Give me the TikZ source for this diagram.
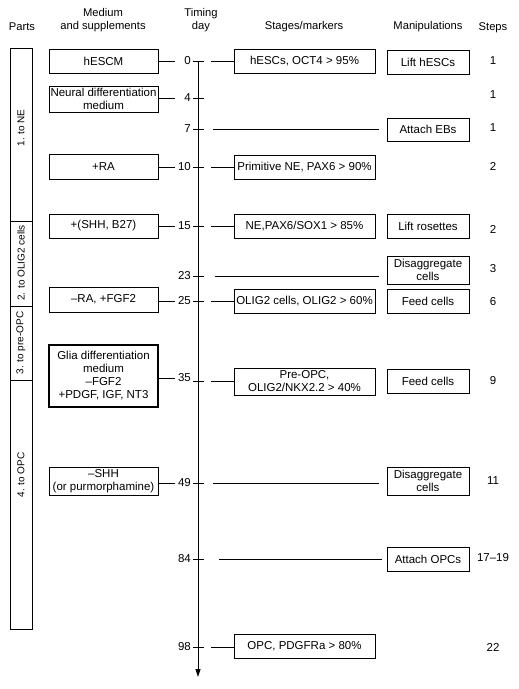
\documentclass[tikz,border=0pt]{standalone}
\usepackage{fontspec}
\setmainfont{Liberation Sans}
\usetikzlibrary{arrows.meta}
\begin{document}
\begin{tikzpicture}[x=1pt,y=-1pt,
  every node/.style={inner sep=0pt, font=\fontsize{11.5}{13}\selectfont},
  box/.style={draw, line width=0.9pt, align=center},
  mbox/.style={box, minimum width=109pt},
  sbox/.style={box, minimum width=141pt},
  pbox/.style={box, minimum width=82pt},
  conn/.style={line width=0.8pt},
  hdr/.style={font=\fontsize{11.2}{13}\selectfont, align=center},
  part/.style={draw, line width=0.9pt, minimum width=22pt},
  plab/.style={rotate=90, font=\fontsize{10}{12}\selectfont}]
\useasboundingbox (0,0) rectangle (519,689);

% headers
\node[hdr] (hParts) at (22,27) {Parts};
\node[hdr] (hMed) at (103,20.5) {Medium\\and supplements};
\node[hdr] (hTim) at (201,20.5) {Timing\\day};
\node[hdr] (hSt) at (304,27) {Stages/markers};
\node[hdr] (hMan) at (428,27) {Manipulations};
\node[hdr] (hSteps) at (493,28) {Steps};

% parts column
\node[part, minimum height=173pt] (P1) at (21,134.5) {};
\node[part, minimum height=85pt] (P2) at (21,263.5) {};
\node[part, minimum height=74pt] (P3) at (21,343) {};
\node[part, minimum height=249pt] (P4) at (21,504.5) {};
\node[plab] (l1) at (21,128) {1. to NE};
\node[plab] (l2) at (21,263) {2. to OLIG2 cells};
\node[plab] (l3) at (21,343) {3. to pre-OPC};
\node[plab] (l4) at (21,475) {4. to OPC};

% medium boxes
\node[mbox, minimum height=24pt] (m0) at (103.5,61) {hESCM};
\node[mbox, minimum height=26pt] (m4) at (103.5,99) {Neural differentiation\\medium};
\node[mbox, minimum height=25pt] (m10) at (103.5,166.5) {+RA};
\node[mbox, minimum height=24pt] (m15) at (103.5,226) {+(SHH, B27)};
\node[mbox, minimum height=25pt] (m25) at (103.5,299.5) {\textendash RA, +FGF2};
\node[mbox, minimum height=62pt, line width=1.8pt] (m35) at (103.5,376) {Glia differentiation\\medium\\\textendash FGF2\\+PDGF, IGF, NT3};
\node[mbox, minimum height=28pt] (m49) at (103.5,481) {\textendash SHH\\(or purmorphamine)};

% timeline
\coordinate (tTop) at (198,61);
\coordinate (tBot) at (198,677);
\draw[conn, -{Triangle[width=5pt,length=8pt]}] (tTop) -- (tBot);
\foreach \d/\y in {0/61,4/98,7/129,10/167,15/226,23/276,25/301,35/381,49/483,84/559,98/647}{
  \coordinate (k\d) at (198,\y);
  \draw[conn] ([xshift=-5pt]k\d) -- ([xshift=6pt]k\d);
}
\foreach \d/\y in {0/61,4/98,7/129,10/167,15/226,23/276,25/301,35/378,49/483,84/559,98/647}{
  \node[anchor=east] (d\d) at (191,\y) {\d};
}

% left connectors
\foreach \d/\y in {0/61,4/98,10/167,15/226,25/301,35/378,49/483}{
  \coordinate (L\d) at (175,\y);
  \draw[conn] (m\d.east |- L\d) -- (L\d);
}

% stage boxes
\node[sbox, minimum height=24pt] (s0) at (304.5,61) {hESCs, OCT4 > 95\%};
\node[sbox, minimum height=24pt] (s10) at (304.5,167) {Primitive NE, PAX6 > 90\%};
\node[sbox, minimum height=24pt] (s15) at (304.5,226) {NE,PAX6/SOX1 > 85\%};
\node[sbox, minimum height=24pt] (s25) at (304.5,301) {OLIG2 cells, OLIG2 > 60\%};
\node[sbox, minimum height=27pt] (s35) at (304.5,381.5) {Pre-OPC,\\OLIG2/NKX2.2 > 40\%};
\node[sbox, minimum height=24pt] (s98) at (304.5,646) {OPC, PDGFRa > 80\%};

% right connectors to stage boxes
\foreach \d/\y in {0/61,10/167,15/226,25/301,35/381,98/647}{
  \coordinate (R\d) at (211,\y);
  \draw[conn] (R\d) -- (s\d.west |- R\d);
}
% long connectors (no stage box)
\foreach \d/\y/\x/\e in {7/129/213/379,23/276/215/379,49/483/213/379,84/559/219/382}{
  \coordinate (R\d) at (\x,\y);
  \coordinate (E\d) at (\e,\y);
  \draw[conn] (R\d) -- (E\d);
}

% manipulation boxes
\node[pbox, minimum height=24pt] (p0) at (428,62) {Lift hESCs};
\node[pbox, minimum height=23pt] (p7) at (428,129.5) {Attach EBs};
\node[pbox, minimum height=24pt] (p15) at (428,226) {Lift rosettes};
\node[pbox, minimum height=28pt] (p23) at (428,270) {Disaggregate\\cells};
\node[pbox, minimum height=24pt] (p25) at (428,301) {Feed cells};
\node[pbox, minimum height=24pt] (p35) at (428,381) {Feed cells};
\node[pbox, minimum height=28pt] (p49) at (428,481) {Disaggregate\\cells};
\node[pbox, minimum height=24pt] (p84) at (428,559) {Attach OPCs};

% steps
\node (st1) at (493,61) {1};
\node (st2) at (493,95) {1};
\node (st3) at (493,128) {1};
\node (st4) at (493,166) {2};
\node (st5) at (493,229) {2};
\node (st6) at (493,269) {3};
\node (st7) at (493,302) {6};
\node (st8) at (493,381) {9};
\node (st9) at (493,481) {11};
\node (st10) at (493,558) {17\textendash 19};
\node (st11) at (493,647) {22};
\end{tikzpicture}
\end{document}
